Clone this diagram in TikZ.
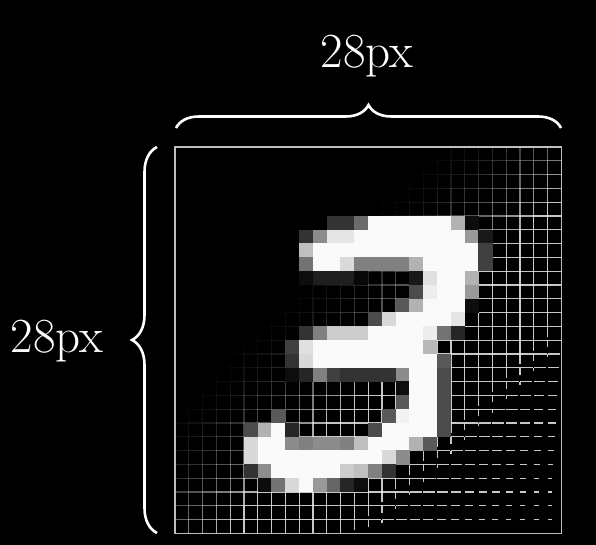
\documentclass[tikz,border=0pt]{standalone}
\usetikzlibrary{decorations.pathreplacing}
\begin{document}
\begin{tikzpicture}[x=1pt,y=-1pt,
  lbl/.style={text=white,font=\fontsize{49}{58}\selectfont,inner sep=0pt,anchor=base},
  bracestyle/.style={draw=white,line width=2.6pt,decorate},
  gridline/.style={draw=white!92!black,line width=1.2pt,line cap=butt},
  border/.style={draw=white!75!black,line width=1.3pt}]
\fill[black] (0,0) rectangle (596,545);
\useasboundingbox (0,0) rectangle (596,545);
\def\gx{175}\def\gy{147}\def\cs{13.8}
% horizontal grid segments
\foreach \j in {1,...,27}{
  \foreach \i in {0,...,27}{
    \pgfmathsetmacro\s{\i+\j}
    \pgfmathsetmacro\t{min(1,max(0,(\s-17)/14))}
    \pgfmathsetmacro\o{0.85*\t*\t}
    \pgfmathsetmacro\f{min(1,max(0.35,1-(\s-40)*0.06))}
    \ifdim\o pt>0.01pt
      \draw[gridline,draw opacity=\o] ({\gx+\i*\cs},{\gy+\j*\cs}) -- ++({\f*\cs},0);
    \fi
  }
}
% vertical grid segments
\foreach \i in {1,...,27}{
  \foreach \j in {0,...,27}{
    \pgfmathsetmacro\s{\i+\j}
    \pgfmathsetmacro\t{min(1,max(0,(\s-17)/14))}
    \pgfmathsetmacro\o{0.85*\t*\t}
    \pgfmathsetmacro\f{min(1,max(0,(43-\s)/4))}
    \ifdim\o pt>0.01pt
      \ifdim\f pt>0pt
        \draw[gridline,draw opacity=\o] ({\gx+\i*\cs},{\gy+\j*\cs}) -- ++(0,{\f*\cs});
      \fi
    \fi
  }
}
% pixel cells: row / first col / last col / brightness
\foreach \r/\a/\b/\v in {
 5/11/12/20, 5/13/13/42, 5/14/19/98, 5/20/20/70, 5/21/21/5,
 6/9/9/20, 6/10/10/55, 6/11/12/90, 6/13/20/98, 6/21/21/60, 6/22/22/10,
 7/9/9/75, 7/10/21/98, 7/22/22/25,
 8/9/9/45, 8/10/11/98, 8/12/12/85, 8/13/16/50, 8/17/17/70, 8/18/21/98, 8/22/22/25,
 9/9/9/5, 9/10/12/12, 9/13/13/3, 9/17/17/10, 9/18/18/88, 9/19/20/98, 9/21/21/70,
 10/17/17/30, 10/18/18/93, 10/19/20/98, 10/21/21/60,
 11/16/16/35, 11/17/17/70, 11/18/20/98, 11/21/21/5,
 12/14/14/30, 12/15/15/85, 12/16/19/98, 12/20/20/90,
 13/9/9/20, 13/10/10/50, 13/11/13/80, 13/14/17/98, 13/18/18/93, 13/19/19/45, 13/20/20/15,
 14/8/8/25, 14/9/9/88, 14/10/17/98, 14/18/18/72,
 15/8/8/20, 15/9/9/85, 15/10/18/98, 15/19/19/35,
 16/8/8/5, 16/9/9/15, 16/10/10/50, 16/11/11/25, 16/12/15/20, 16/16/16/55, 16/17/18/98, 16/19/19/30,
 17/16/16/5, 17/17/18/98, 17/19/19/30,
 18/16/16/35, 18/17/18/98, 18/19/19/30,
 19/7/7/35, 19/15/15/35, 19/16/16/95, 19/17/18/98, 19/19/19/30,
 20/5/5/30, 20/6/6/70, 20/7/7/98, 20/8/8/15, 20/14/14/30, 20/15/18/98, 20/19/19/30,
 21/5/5/85, 21/6/7/98, 21/8/8/55, 21/9/9/50, 21/10/11/55, 21/12/12/50, 21/13/13/75, 21/14/16/98, 21/17/17/70, 21/18/18/35,
 22/5/5/85, 22/6/14/98, 22/15/15/85, 22/16/16/55,
 23/5/5/20, 23/6/6/55, 23/7/11/98, 23/12/12/80, 23/13/13/75, 23/14/14/50, 23/15/15/20,
 24/6/6/5, 24/7/7/45, 24/8/8/85, 24/9/9/98, 24/10/10/60, 24/11/11/40, 24/12/12/15, 24/13/13/5}{
  \foreach \c in {\a,...,\b}{
    \fill[white!\v!black] ({\gx+\c*\cs-0.2},{\gy+\r*\cs-0.2}) rectangle ++({\cs+0.4},{\cs+0.4});
  }
}
% border
\draw[border] (175,147) rectangle (561.4,533.4);
% braces
\coordinate (tb1) at (176,128);
\coordinate (tb2) at (561,128);
\coordinate (lb1) at (157,533);
\coordinate (lb2) at (157,147);
\draw[bracestyle,decoration={brace,amplitude=23pt}] (tb1) -- (tb2);
\draw[bracestyle,decoration={brace,amplitude=25pt}] (lb1) -- (lb2);
% labels
\node[lbl] (toplabel) at (367,68) {28px};
\node[lbl] (leftlabel) at (57,352) {28px};
\end{tikzpicture}
\end{document}
